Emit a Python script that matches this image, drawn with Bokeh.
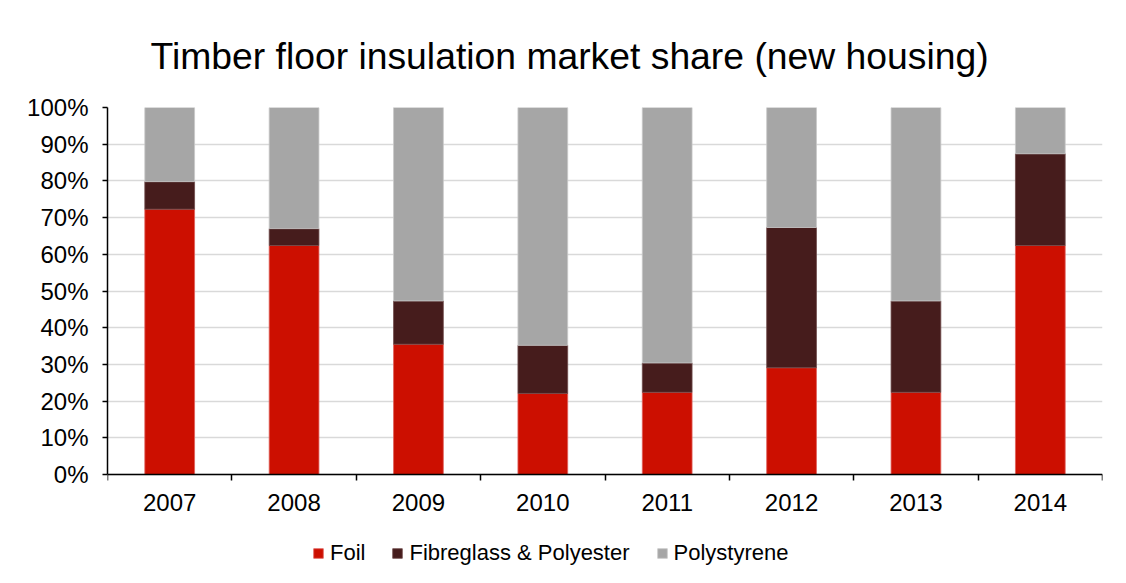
from bokeh.plotting import figure
from bokeh.models import (ColumnDataSource, FixedTicker, NumeralTickFormatter, Legend,
                          LegendItem, Title, Range1d)
from bokeh.embed import file_html
from bokeh.resources import INLINE

years = ["2007", "2008", "2009", "2010", "2011", "2012", "2013", "2014"]
foil = [0.723, 0.624, 0.355, 0.221, 0.224, 0.291, 0.224, 0.624]
fibreglass = [0.075, 0.046, 0.118, 0.131, 0.080, 0.382, 0.249, 0.250]
polystyrene = [1 - a - b for a, b in zip(foil, fibreglass)]
series_names = ["Foil", "Fibreglass & Polyester", "Polystyrene"]
colors = ["#CC0F00", "#461C1C", "#A6A6A6"]
edge_colors = ["#E0605A", "#6E4A4A", "#C8C8C8"]
title_text = "Timber floor insulation market share (new housing)"

xs = [i + 0.5 for i in range(len(years))]
src = ColumnDataSource(dict(x=xs, foil=foil, fibreglass=fibreglass, polystyrene=polystyrene))

FONT = "Liberation Sans"

# frame reaches the bottom of the canvas so that the legend can sit inside it;
# the value range below 0 is empty space holding the x labels and the legend
p = figure(frame_width=995, frame_height=476, output_backend="svg", toolbar_location=None,
           x_range=Range1d(0, len(years)), y_range=Range1d(-0.297, 1),
           min_border_left=107, min_border_right=24, min_border_top=107, min_border_bottom=0)
p.outline_line_color = None
p.background_fill_color = "white"
p.border_fill_color = "white"

renderers = p.vbar_stack(["foil", "fibreglass", "polystyrene"], x="x", width=0.4, source=src,
                         fill_color=colors, line_color=edge_colors, line_width=0.8)

# y axis
p.yaxis.ticker = FixedTicker(ticks=[i / 10 for i in range(11)])
p.yaxis.formatter = NumeralTickFormatter(format="0%")
p.yaxis.bounds = (0, 1)
p.yaxis.major_label_text_font = FONT
p.yaxis.major_label_text_font_size = "24px"
p.yaxis.major_label_text_color = "#000000"
p.yaxis.axis_line_color = "#000000"
p.yaxis.axis_line_width = 1.5
p.yaxis.major_tick_line_color = "#000000"
p.yaxis.major_tick_line_width = 1.5
p.yaxis.major_tick_out = 5
p.yaxis.major_tick_in = 0
p.yaxis.minor_tick_line_color = None
p.yaxis.major_label_standoff = 14

# x axis at 0%: labels at category centers, tick marks at boundaries
p.xaxis.fixed_location = 0
p.xaxis.ticker = FixedTicker(ticks=xs, minor_ticks=list(range(len(years) + 1)))
p.xaxis.major_label_overrides = {x: y for x, y in zip(xs, years)}
p.xaxis.major_tick_line_color = None
p.xaxis.minor_tick_line_color = "#000000"
p.xaxis.minor_tick_line_width = 1.5
p.xaxis.minor_tick_out = 6
p.xaxis.minor_tick_in = 0
p.xaxis.axis_line_color = "#000000"
p.xaxis.axis_line_width = 1.5
p.xaxis.major_label_text_font = FONT
p.xaxis.major_label_text_font_size = "24px"
p.xaxis.major_label_text_color = "#000000"
p.xaxis.major_label_standoff = 13

p.xgrid.grid_line_color = None
p.ygrid.grid_line_color = "#D9D9D9"
p.ygrid.grid_line_width = 1.5

# title
p.add_layout(Title(text=title_text, text_font=FONT, text_font_size="37.3px",
                   text_font_style="normal", text_color="#000000",
                   align="left", offset=43, standoff=61), "above")

legend = Legend(items=[LegendItem(label=n, renderers=[r]) for n, r in zip(series_names, renderers)],
                orientation="horizontal", location=(205, 17),
                label_text_font=FONT, label_text_font_size="22px", label_text_color="#000000",
                glyph_width=12, glyph_height=12, label_standoff=6, spacing=26,
                padding=0, margin=0, border_line_color=None, background_fill_alpha=0)
p.add_layout(legend, "center")

open("out.html", "w").write(file_html(p, INLINE))
